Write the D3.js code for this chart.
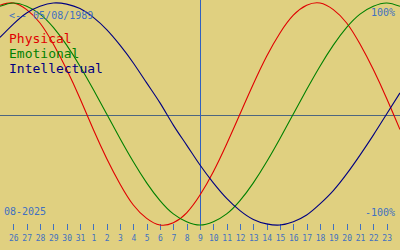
<!DOCTYPE html>
<html>
<head>
<meta charset="utf-8">
<script src="https://cdn.jsdelivr.net/npm/d3@7"></script>
<style>
html,body{margin:0;padding:0;background:#e0d080;}
svg{display:block;}
text{font-family:"DejaVu Sans Mono",monospace;}
</style>
</head>
<body>
<svg id="chart" width="400" height="250"></svg>
<script>
// Days shown (Jul 25 .. Aug 24, 2025); first and last are at the edges, unlabeled
const days = [25,26,27,28,29,30,31,1,2,3,4,5,6,7,8,9,10,11,12,13,14,15,16,17,18,19,20,21,22,23,24];
const physical = [0.98,1.00,0.94,0.82,0.63,0.40,0.14,-0.14,-0.40,-0.63,-0.82,-0.94,-1.00,-0.98,-0.89,-0.73,-0.52,-0.27,0,0.27,0.52,0.73,0.89,0.98,1.00,0.94,0.82,0.63,0.40,0.14,-0.14];
const emotional = [0.97,1.00,0.97,0.90,0.78,0.62,0.43,0.22,0,-0.22,-0.43,-0.62,-0.78,-0.90,-0.97,-1.00,-0.97,-0.90,-0.78,-0.62,-0.43,-0.22,0,0.22,0.43,0.62,0.78,0.90,0.97,1.00,0.97];
const intellectual = [0.69,0.81,0.91,0.97,1.00,0.99,0.95,0.87,0.76,0.62,0.46,0.28,0.10,-0.10,-0.28,-0.46,-0.62,-0.76,-0.87,-0.95,-0.99,-1.00,-0.97,-0.91,-0.81,-0.69,-0.54,-0.37,-0.19,0,0.19];
const seriesNames = ["Physical","Emotional","Intellectual"];
const seriesColors = ["#e00000","#008000","#000080"];
const todayIndex = 15;
const birthLabel = "<-- 05/08/1989";
const monthLabel = "08-2025";
const topLabel = "100%";
const bottomLabel = "-100%";

const svg = d3.select("#chart");
const W = 400, H = 250;
const blue = "#4070c0";

svg.append("rect").attr("width", W).attr("height", H).attr("fill", "#e0d080");

const x = d3.scaleLinear().domain([0, days.length - 1]).range([0, W]);
const y = d3.scaleLinear().domain([-1, 1]).range([225, 3]);

// horizontal zero line
svg.append("line").attr("x1", 0).attr("x2", W)
  .attr("y1", 115.5).attr("y2", 115.5)
  .attr("stroke", "#4d6680").attr("stroke-width", 1);

// today vertical line
svg.append("line").attr("x1", Math.round(x(todayIndex)) + 0.5).attr("x2", Math.round(x(todayIndex)) + 0.5)
  .attr("y1", 0).attr("y2", 230)
  .attr("stroke", "#3060c0").attr("stroke-width", 1);

// ticks and labels
const tickIdx = d3.range(1, days.length - 1);
svg.selectAll(".tick").data(tickIdx).enter().append("line")
  .attr("x1", d => Math.round(x(d)) + 0.5).attr("x2", d => Math.round(x(d)) + 0.5)
  .attr("y1", 224).attr("y2", 230)
  .attr("stroke", blue).attr("stroke-width", 1);
svg.selectAll(".tl").data(tickIdx).enter().append("text")
  .attr("x", d => x(d) + 0.5).attr("y", 241)
  .attr("text-anchor", "middle")
  .attr("font-size", 8).attr("fill", blue)
  .text(d => days[d]);

// curves
const line = d3.line().x((d, i) => x(i)).y(d => y(d)).curve(d3.curveNatural);
[physical, emotional, intellectual].forEach((s, k) => {
  svg.append("path").attr("d", line(s))
    .attr("fill", "none").attr("stroke", seriesColors[k]).attr("stroke-width", 1.1);
});

// texts
svg.append("text").attr("x", 9).attr("y", 19).attr("font-size", 10).attr("fill", blue).text(birthLabel);
svg.append("text").attr("x", 395).attr("y", 16).attr("text-anchor", "end").attr("font-size", 10).attr("fill", blue).text(topLabel);
svg.append("text").attr("x", 395).attr("y", 216).attr("text-anchor", "end").attr("font-size", 10).attr("fill", blue).text(bottomLabel);
svg.append("text").attr("x", 4).attr("y", 215).attr("font-size", 10).attr("fill", blue).text(monthLabel);

seriesNames.forEach((n, k) => {
  svg.append("text").attr("x", 9).attr("y", 43 + 15 * k)
    .attr("font-size", 13).attr("fill", seriesColors[k]).text(n);
});
</script>
</body>
</html>
